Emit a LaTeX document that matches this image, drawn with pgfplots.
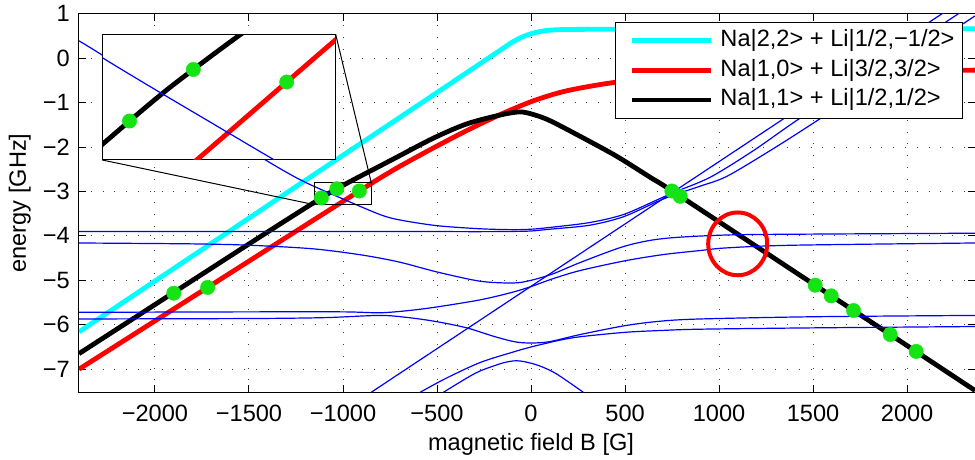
\documentclass[border=0pt]{standalone}
\usepackage{fontspec}
\setmainfont{Liberation Sans}
\usepackage{pgfplots}
\usepackage{pgfplotstable}
\pgfplotsset{compat=1.18}
\definecolor{mcyan}{rgb}{0,1,1}
\definecolor{mred}{rgb}{1,0,0}
\definecolor{mblue}{rgb}{0,0,1}
\definecolor{dotgreen}{RGB}{20,228,20}

\pgfplotstableread{
B E
-2404 -6.16
-1800 -4.45
-1200 -2.75
-700 -1.34
-400 -0.49
-160 0.19
-100 0.36
-50 0.47
0 0.55
50 0.60
100 0.63
200 0.645
500 0.65
1500 0.655
2361 0.66
}\tcyan

\pgfplotstableread{
B E
-2404 -7.00
-1720 -5.16
-1200 -3.76
-913 -2.99
-800 -2.69
-696 -2.43
-519 -2.02
-342 -1.63
-164 -1.27
13 -0.96
190 -0.735
438 -0.55
700 -0.45
1000 -0.39
1500 -0.33
2000 -0.29
2361 -0.27
}\tred

\pgfplotstableread{
B E
-2404 -6.65
-1800 -5.00
-1400 -3.91
-1115 -3.145
-1033 -2.94
-932 -2.71
-800 -2.42
-696 -2.19
-519 -1.80
-342 -1.48
-164 -1.28
-60 -1.21
13 -1.27
102 -1.41
279 -1.80
456 -2.21
633 -2.68
776 -3.06
1500 -5.08
2000 -6.47
2361 -7.48
}\tblack

\pgfplotstableread{
B E
-1900 -5.29
-1720 -5.16
-1115 -3.145
-1033 -2.94
-913 -2.99
749 -2.99
793 -3.11
1511 -5.11
1596 -5.35
1715 -5.68
1910 -6.22
2048 -6.60
}\tdots

\pgfplotstableread{
B E
-2404 0.39
-2281 0.07
-2000 -0.69
-1800 -1.24
-1600 -1.78
-1405 -2.31
-1217 -2.76
-1000 -3.17
-803 -3.52
-700 -3.64
-501 -3.77
-271 -3.84
-100 -3.86
0 -3.85
100 -3.81
312 -3.70
491 -3.52
670 -3.19
760 -3.02
953 -2.68
1183 -2.08
1410 -1.41
1800 -0.32
2273 1.0
2320 1.13
}\tla

\pgfplotstableread{
B E
-2404 -3.90
-1500 -3.90
-700 -3.90
-300 -3.905
-100 -3.90
0 -3.89
100 -3.85
312 -3.76
491 -3.57
670 -3.23
760 -3.08
900 -2.88
1041 -2.66
1272 -2.08
1520 -1.41
1900 -0.34
2361 0.95
}\tlb

\pgfplotstableread{
B E
-850 -7.52
2200 1.04
}\tlc

\pgfplotstableread{
B E
-2404 -4.16
-1800 -4.18
-1500 -4.21
-1163 -4.29
-900 -4.43
-700 -4.59
-502 -4.81
-271 -5.02
-94 -5.06
0 -5.00
119 -4.85
261 -4.60
500 -4.23
704 -4.06
1041 -3.98
1500 -3.96
2361 -3.94
}\tld

\pgfplotstableread{
B E
-2404 -5.72
-1500 -5.71
-1000 -5.71
-803 -5.73
-650 -5.68
-502 -5.60
-271 -5.44
-100 -5.27
0 -5.14
119 -4.96
261 -4.78
500 -4.56
704 -4.42
899 -4.33
1041 -4.27
1396 -4.21
2361 -4.16
}\tle

\pgfplotstableread{
B E
-2404 -5.87
-1500 -5.86
-1100 -5.84
-803 -5.79
-650 -5.84
-502 -5.93
-342 -6.07
-183 -6.28
-59 -6.40
83 -6.39
261 -6.22
500 -6.02
687 -5.92
899 -5.87
1500 -5.82
2361 -5.79
}\tlf

\pgfplotstableread{
B E
-590 -7.52
-450 -7.20
-271 -6.85
-100 -6.62
0 -6.50
150 -6.35
261 -6.27
500 -6.17
687 -6.13
899 -6.10
1500 -6.07
2361 -6.04
}\tlg

\pgfplotstableread{
B E
-466 -7.52
-350 -7.22
-271 -7.04
-150 -6.86
-76 -6.81
-5 -6.86
60 -6.95
137 -7.11
278 -7.52
}\tlh

\begin{document}
\begin{tikzpicture}
\begin{axis}[
  name=main,
  scale only axis, width=448pt, height=189.3pt,
  xmin=-2404, xmax=2361, ymin=-7.52, ymax=1,
  xtick={-2000,-1500,...,2000},
  xticklabels={−2000,−1500,−1000,−500,0,500,1000,1500,2000},
  ytick={-7,-6,...,1},
  yticklabels={−7,−6,−5,−4,−3,−2,−1,0,1},
  tick align=inside, tick pos=both, major tick length=3.5pt,
  grid=major,
  major grid style={black!75, line width=0.5pt, dash pattern=on 0.5pt off 5.4pt},
  axis line style={line width=0.5pt},
  every tick/.style={black, line width=0.5pt},
  tick label style={font=\fontsize{11.8}{14}\selectfont},
  xticklabel style={anchor=base, yshift=-14.7pt},
  yticklabel style={anchor=east, xshift=-1.1pt},
  label style={font=\fontsize{11.8}{14}\selectfont},
  xlabel={magnetic field B [G]},
  xlabel style={at={(axis description cs:0.5045,-0.1527)}, anchor=base},
  ylabel={energy [GHz]},
  ylabel style={at={(axis description cs:-0.0592,0.5)}, anchor=base},
  legend style={at={(0.98661,0.97886)}, anchor=north east, draw=black,
    line width=0.5pt, fill=white, font=\fontsize{11.8}{14}\selectfont,
    inner xsep=3pt, inner ysep=3.3pt, row sep=2.8pt, column sep=2.6pt,
    nodes={inner xsep=1pt, inner ysep=0pt, text height=9pt, text depth=3pt},
    cells={anchor=west}},
  legend cell align=left,
  legend image code/.code={\path (0pt,0pt); \draw[#1] (4.2pt,0pt) -- (43.7pt,0pt);},
]
\addplot[mcyan, line width=2.4pt, smooth] table {\tcyan};
\addlegendentry{Na|2,2> + Li|1/2,−1/2>}
\addplot[mred, line width=2.4pt, smooth] table {\tred};
\addlegendentry{Na|1,0> + Li|3/2,3/2>}
\addplot[black, line width=2.4pt, smooth] table {\tblack};
\addlegendentry{Na|1,1> + Li|1/2,1/2>}
\addplot[mblue, line width=0.6pt, smooth, forget plot] table {\tla};
\addplot[mblue, line width=0.6pt, smooth, forget plot] table {\tlb};
\addplot[mblue, line width=0.6pt, forget plot] table {\tlc};
\addplot[mblue, line width=0.6pt, smooth, forget plot] table {\tld};
\addplot[mblue, line width=0.6pt, smooth, forget plot] table {\tle};
\addplot[mblue, line width=0.6pt, smooth, forget plot] table {\tlf};
\addplot[mblue, line width=0.6pt, smooth, forget plot] table {\tlg};
\addplot[mblue, line width=0.6pt, smooth, forget plot] table {\tlh};
\addplot[dotgreen, only marks, mark=*, mark size=3.6pt, mark options={draw=dotgreen, fill=dotgreen, line width=0.2pt}, forget plot] table {\tdots};
\draw[mred, line width=2pt] (axis cs:1099,-4.18) ellipse [x radius=14.75pt, y radius=15.7pt];
\draw[line width=0.5pt] (axis cs:-1150,-3.3) rectangle (axis cs:-850,-2.8);
\coordinate (sbl) at (axis cs:-1150,-3.3);
\coordinate (str) at (axis cs:-850,-2.8);
\end{axis}
\begin{axis}[
  name=inset, at={(11.65pt,116.15pt)}, anchor=south west,
  scale only axis, width=116.7pt, height=62.85pt,
  xmin=-1150, xmax=-850, ymin=-3.3, ymax=-2.8,
  xtick=\empty, ytick=\empty,
  axis background/.style={fill=white},
  axis line style={line width=0.5pt},
]
\addplot[mred, line width=2.4pt, smooth] table {\tred};
\addplot[black, line width=2.4pt, smooth] table {\tblack};
\addplot[mblue, line width=0.6pt, smooth] table {\tla};
\addplot[dotgreen, only marks, mark=*, mark size=3.6pt, mark options={draw=dotgreen, fill=dotgreen, line width=0.2pt}] table {\tdots};
\end{axis}
\draw[line width=0.5pt] (inset.south west) -- (sbl);
\draw[line width=0.5pt] (inset.north east) -- (str);
\pgfresetboundingbox
\path[use as bounding box] (-39.5pt,-33.85pt) rectangle (448pt,196.15pt);
\end{tikzpicture}
\end{document}
